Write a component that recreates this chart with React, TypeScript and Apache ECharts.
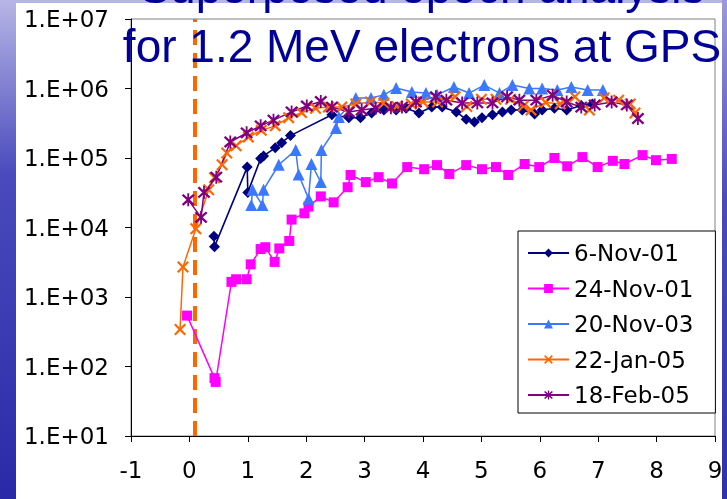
import React, { useEffect, useRef } from "react";
import * as echarts from "echarts";

const SERIES_NAMES = ["6-Nov-01", "24-Nov-01", "20-Nov-03", "22-Jan-05", "18-Feb-05"];

const NOV06_01: [number, number][] = [
  [0.42, 7500], [0.43, 5300], [0.99, 74000], [1.0, 32000], [1.22, 98000], [1.27, 107000],
  [1.47, 140000], [1.58, 166000], [1.73, 210000], [2.44, 420000], [2.73, 380000], [2.93, 380000],
  [3.12, 445000], [3.33, 490000], [3.54, 490000], [3.71, 520000], [3.93, 445000], [4.15, 540000],
  [4.33, 540000], [4.57, 460000], [4.74, 360000], [4.88, 330000], [5.01, 380000], [5.19, 420000],
  [5.36, 460000], [5.51, 490000], [5.7, 490000], [5.91, 430000], [6.04, 490000], [6.25, 520000],
  [6.46, 490000], [6.71, 570000], [6.9, 600000],
];

const NOV24_01: [number, number][] = [
  [-0.04, 540], [0.43, 68], [0.45, 60], [0.72, 1650], [0.8, 1800], [0.98, 1800], [1.05, 2950],
  [1.22, 4900], [1.3, 5200], [1.46, 3200], [1.54, 5000], [1.71, 6400], [1.75, 13000], [1.97, 16000],
  [2.04, 20000], [2.25, 28000], [2.47, 23000], [2.71, 38000], [2.76, 57000], [3.02, 45000],
  [3.24, 53000], [3.47, 43000], [3.73, 74000], [4.02, 69000], [4.24, 79000], [4.45, 59000],
  [4.74, 79000], [5.01, 69000], [5.25, 74000], [5.46, 57000], [5.74, 82000], [5.99, 74000],
  [6.25, 100000], [6.47, 76000], [6.73, 103000], [6.99, 74000], [7.25, 91000], [7.45, 82000],
  [7.76, 110000], [7.99, 93000], [8.26, 97000],
];

const NOV20_03: [number, number][] = [
  [1.06, 21000], [1.08, 35000], [1.25, 21000], [1.27, 35000], [1.53, 80000], [1.82, 130000],
  [1.87, 58000], [2.04, 26000], [2.09, 82000], [2.25, 45000], [2.26, 130000], [2.51, 270000],
  [2.56, 390000], [2.85, 730000], [3.11, 730000], [3.33, 810000], [3.54, 1020000], [3.81, 890000],
  [4.05, 860000], [4.24, 810000], [4.53, 1050000], [4.79, 860000], [5.05, 1120000], [5.31, 860000],
  [5.53, 1120000], [5.82, 1000000], [6.04, 1000000], [6.3, 950000], [6.54, 1050000], [6.82, 950000],
  [7.08, 950000],
];

const JAN22_05: [number, number][] = [
  [-0.16, 340], [-0.11, 2700], [0.11, 9600], [0.33, 35000], [0.43, 52000], [0.56, 80000],
  [0.64, 118000], [0.8, 150000], [1.01, 200000], [1.23, 250000], [1.47, 290000], [1.7, 380000],
  [1.92, 450000], [2.16, 520000], [2.38, 540000], [2.61, 540000], [2.85, 600000], [3.1, 640000],
  [3.33, 620000], [3.55, 550000], [3.8, 600000], [4.0, 640000], [4.25, 640000], [4.55, 760000],
  [4.75, 550000], [5.0, 700000], [5.25, 700000], [5.5, 700000], [5.72, 560000], [5.85, 490000],
  [6.1, 630000], [6.35, 600000], [6.6, 760000], [6.85, 490000], [7.1, 730000], [7.35, 680000],
  [7.55, 600000], [7.63, 445000],
];

const FEB18_05: [number, number][] = [
  [-0.02, 25000], [0.2, 14000], [0.25, 32000], [0.46, 53000], [0.7, 170000], [0.98, 230000],
  [1.22, 290000], [1.44, 350000], [1.75, 460000], [2.01, 560000], [2.25, 650000], [2.44, 540000],
  [2.73, 460000], [2.95, 490000], [3.19, 520000], [3.45, 530000], [3.64, 540000], [3.88, 640000],
  [4.22, 760000], [4.4, 680000], [4.67, 620000], [4.93, 620000], [5.19, 620000], [5.44, 760000],
  [5.65, 680000], [5.94, 680000], [6.22, 800000], [6.46, 640000], [6.71, 540000], [6.94, 580000],
  [7.23, 640000], [7.49, 580000], [7.68, 370000],
];

const EVENT_X = 0.1;
const X_TICKS = [-1, 0, 1, 2, 3, 4, 5, 6, 7, 8, 9];
const Y_TICK_LABELS = ["1.E+01", "1.E+02", "1.E+03", "1.E+04", "1.E+05", "1.E+06", "1.E+07"];
const TITLE_LINES = ["Superposed epoch analysis", "for 1.2 MeV electrons at GPS"];

const X_SYMBOL =
  "path://M0,1.3 L1.3,0 L5,3.7 L8.7,0 L10,1.3 L6.3,5 L10,8.7 L8.7,10 L5,6.3 L1.3,10 L0,8.7 L3.7,5 Z";
const STAR_SYMBOL =
  "path://M0,1.3 L1.3,0 L5,3.7 L8.7,0 L10,1.3 L6.3,5 L10,8.7 L8.7,10 L5,6.3 L1.3,10 L0,8.7 L3.7,5 Z M4.3,-0.5 L5.7,-0.5 L5.7,10.5 L4.3,10.5 Z";

const LABEL_FONT = "DejaVu Sans";

export default function App() {
  const ref = useRef<HTMLDivElement>(null);

  useEffect(() => {
    if (!ref.current) return;
    const chart = echarts.init(ref.current, null, { renderer: "svg" });

    const mk = (
      name: string,
      data: [number, number][],
      color: string,
      symbol: string,
      size: number,
      width: number
    ) => ({
      name,
      type: "line",
      data,
      symbol,
      symbolSize: size,
      showSymbol: true,
      lineStyle: { color, width },
      itemStyle: { color, borderWidth: 0 },
      emphasis: { disabled: true },
      z: 3,
    });

    const series: any[] = [
      mk(SERIES_NAMES[0], NOV06_01, "#000080", "diamond", 11, 1.6),
      mk(SERIES_NAMES[1], NOV24_01, "#FF00FF", "rect", 10, 1.5),
      mk(SERIES_NAMES[2], NOV20_03, "#3C78FF", "triangle", 12, 1.5),
      mk(SERIES_NAMES[3], JAN22_05, "#FF6600", X_SYMBOL, 12, 1.5),
      mk(SERIES_NAMES[4], FEB18_05, "#800080", STAR_SYMBOL, 13, 1.5),
    ];
    series[0].markLine = {
      silent: true,
      symbol: "none",
      label: { show: false },
      lineStyle: { color: "#FF6600", width: 4, type: [15, 8], opacity: 1 },
      data: [{ xAxis: EVENT_X }],
      z: 1,
    };

    chart.setOption({
      animation: false,
      backgroundColor: "transparent",
      graphic: [
        {
          type: "rect",
          z: -20,
          shape: { x: 0, y: 0, width: 727, height: 499 },
          style: {
            fill: new echarts.graphic.LinearGradient(0, 0, 0, 1, [
              { offset: 0, color: "#b6b6e6" },
              { offset: 0.35, color: "#4a4abd" },
              { offset: 1, color: "#2a2aa8" },
            ]),
          },
        },
        {
          type: "rect",
          z: -19,
          shape: { x: 16, y: 3, width: 706, height: 496 },
          style: { fill: "#ffffff" },
        },
        {
          type: "text",
          z: 50,
          x: 422,
          y: -13,
          style: {
            text: TITLE_LINES[0],
            font: "46px 'Liberation Sans', Arial, sans-serif",
            fill: "#000099",
            align: "center",
            verticalAlign: "middle",
          },
        },
        {
          type: "text",
          z: 50,
          x: 422,
          y: 46,
          style: {
            text: TITLE_LINES[1],
            font: "46px 'Liberation Sans', Arial, sans-serif",
            fill: "#000099",
            align: "center",
            verticalAlign: "middle",
          },
        },
        {
          type: "rect",
          z: 60,
          shape: { x: 722, y: 0, width: 5, height: 499 },
          style: {
            fill: new echarts.graphic.LinearGradient(0, 0, 0, 1, [
              { offset: 0, color: "#9a9ada" },
              { offset: 0.4, color: "#4a4abd" },
              { offset: 1, color: "#3030b0" },
            ]),
          },
        },
      ],
      grid: {
        left: 131,
        right: 12,
        top: 19,
        bottom: 63,
        show: true,
        backgroundColor: "#ffffff",
        borderColor: "#808080",
        borderWidth: 1,
      },
      legend: {
        orient: "vertical",
        left: 518,
        top: 231,
        padding: [9, 22, 5, 9],
        itemWidth: 41,
        itemHeight: 11,
        itemGap: 9.5,
        itemTextGap: 8,
        backgroundColor: "#ffffff",
        borderColor: "#000000",
        borderWidth: 1,
        borderRadius: 0,
        textStyle: { fontFamily: LABEL_FONT, fontSize: 23, color: "#000000", lineHeight: 26 },
        data: SERIES_NAMES,
        z: 10,
      },
      xAxis: {
        type: "value",
        min: X_TICKS[0],
        max: X_TICKS[X_TICKS.length - 1],
        interval: 1,
        axisLine: { show: true, onZero: false, lineStyle: { color: "#000000", width: 1 } },
        axisTick: { show: true, inside: false, length: 6, lineStyle: { color: "#000000" } },
        axisLabel: {
          color: "#000000",
          fontFamily: LABEL_FONT,
          fontSize: 23,
          margin: 22,
          showMinLabel: true,
          showMaxLabel: true,
          formatter: (v: number) => String(X_TICKS[X_TICKS.indexOf(Math.round(v))]),
        },
        splitLine: { show: false },
      },
      yAxis: {
        type: "log",
        logBase: 10,
        min: 10,
        max: 1e7,
        axisLine: { show: true, onZero: false, lineStyle: { color: "#000000", width: 1 } },
        axisTick: { show: true, inside: false, length: 6, lineStyle: { color: "#000000" } },
        axisLabel: {
          color: "#000000",
          fontFamily: LABEL_FONT,
          fontSize: 23,
          margin: 22,
          formatter: (v: number) => Y_TICK_LABELS[Math.round(Math.log10(v)) - 1] ?? "",
        },
        splitLine: { show: false },
        minorTick: { show: false },
      },
      series,
    });

    return () => chart.dispose();
  }, []);

  return (
    <div
      ref={ref}
      style={{ position: "fixed", left: 0, top: 0, width: 727, height: 499 }}
    />
  );
}
